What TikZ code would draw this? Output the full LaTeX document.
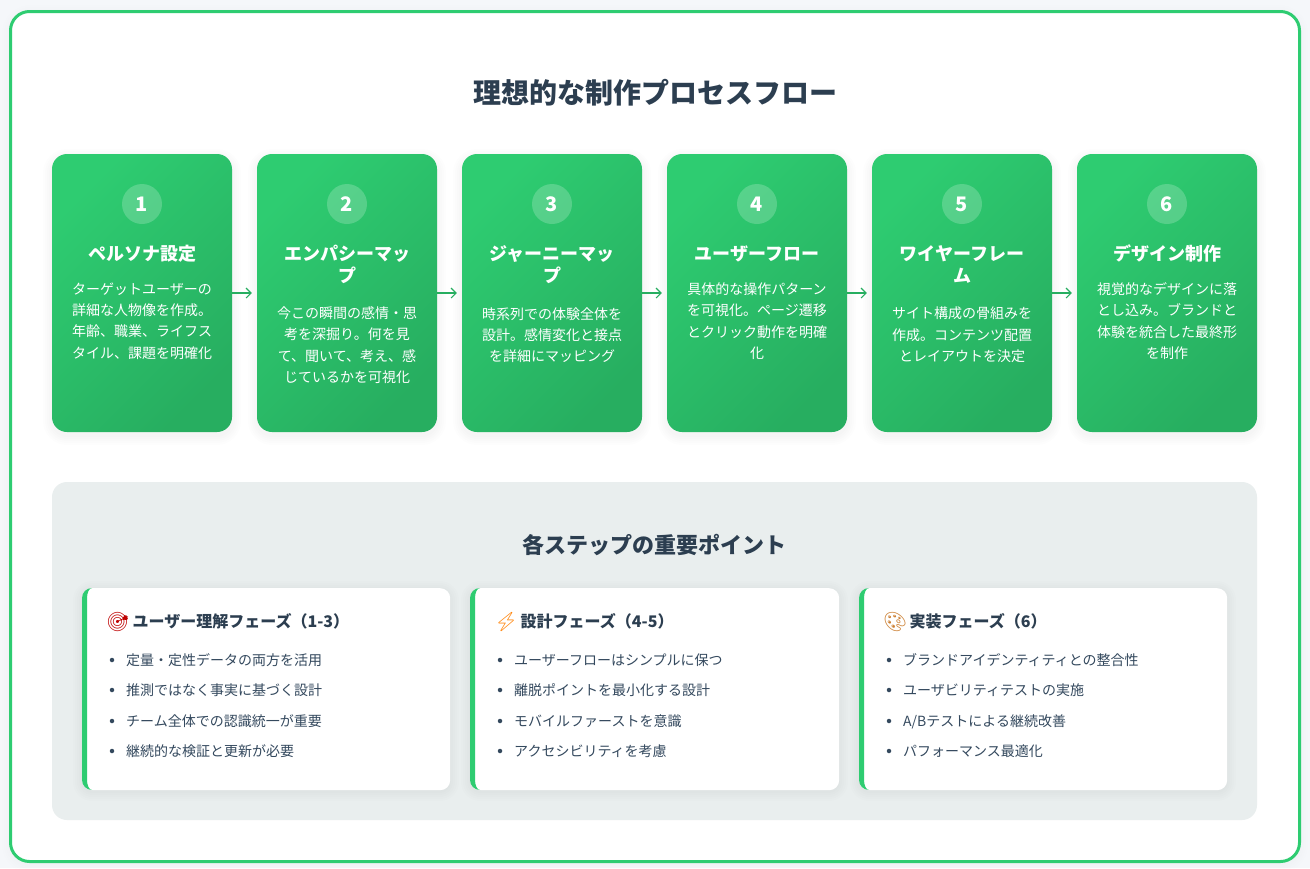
\documentclass[tikz,border=0pt]{standalone}
\usepackage{fontspec}
\setmainfont{Noto Sans CJK JP}
\newfontfamily\emojifont{Noto Emoji}
\usetikzlibrary{arrows.meta}
\usetikzlibrary{positioning}
\definecolor{pagebg}{HTML}{F5F7FA}
\definecolor{flowgreen}{HTML}{2ECC71}
\definecolor{flowdark}{HTML}{27AE60}
\definecolor{inkdark}{HTML}{2C3E50}
\definecolor{inklist}{HTML}{34495E}
\definecolor{panelbg}{HTML}{E9EEEE}
\tikzstyle{frame}=[rectangle,draw=flowgreen,line width=3pt,fill=white,rounded corners=19pt,inner sep=0pt]
\tikzstyle{stepcard}=[rectangle,rounded corners=15pt,minimum width=180pt,minimum height=278pt,inner sep=0pt,top color=flowgreen,bottom color=flowdark,shading angle=45]
\tikzstyle{stepnum}=[circle,fill=white,fill opacity=0.2,text opacity=1,text=white,minimum size=40pt,inner sep=0pt,font=\fontsize{20}{24}\selectfont\bfseries]
\tikzstyle{steptitle}=[text=white,align=center,inner sep=0pt,font=\fontsize{18}{22}\selectfont\bfseries]
\tikzstyle{stepbody}=[text=white,align=center,inner sep=0pt,font=\fontsize{14}{21.3}\selectfont]
\tikzstyle{flowarrow}=[draw=flowdark,line width=1.1pt,-{Straight Barb[length=5pt,width=10pt]},shorten >=5pt]
\tikzstyle{maintitle}=[text=inkdark,inner sep=0pt,font=\fontsize{28}{34}\selectfont\bfseries]
\tikzstyle{paneltitle}=[text=inkdark,inner sep=0pt,font=\fontsize{22}{26}\selectfont\bfseries]
\tikzstyle{phasecard}=[rectangle,fill=white,rounded corners=10pt,minimum height=202pt,inner sep=0pt,anchor=north west]
\tikzstyle{phasehead}=[text=inkdark,inner sep=0pt,anchor=west,text height=13pt,text depth=1.6pt,font=\fontsize{16}{20}\selectfont\bfseries]
\tikzstyle{phaseicon}=[inner sep=0pt,anchor=west,text height=15pt,text depth=2pt,font=\fontsize{19}{22}\emojifont]
\tikzstyle{phaseitem}=[text=inklist,inner sep=0pt,anchor=west,text height=12pt,text depth=1.4pt,font=\fontsize{14}{18}\selectfont]
\tikzstyle{itemdot}=[circle,fill=inklist,minimum size=4.5pt,inner sep=0pt]
\newcommand{\softshadow}[6]{% x1 y1 x2 y2 radius alpha
    \foreach \spread in {9,7,5,3,1}
        \fill[black,opacity=#6,rounded corners=#5pt+\spread pt] (#1-\spread,#2-\spread) rectangle (#3+\spread,#4+\spread);
}
\begin{document}
\begin{tikzpicture}[x=1pt,y=-1pt]

    \useasboundingbox (0,0) rectangle (1310,868);
    \fill[pagebg] (0,0) rectangle (1310,868);
    \softshadow{11}{14}{1299}{864}{19}{0.004}
    \node[frame,minimum width=1289pt,minimum height=850pt] (outer) at (655,436.5) {};

    \node[maintitle] (title) at (655,93) {理想的な制作プロセスフロー};

    \foreach \i/\xpos/\ttl/\ttly/\body/\bodyy in {
        1/142/{ペルソナ設定}/253.5/{ターゲットユーザーの\\詳細な人物像を作成。\\年齢、職業、ライフス\\タイル、課題を明確化}/321,
        2/347/{エンパシーマッ\\プ}/264.5/{今この瞬間の感情・思\\考を深掘り。何を見\\て、聞いて、考え、感\\じているかを可視化}/345,
        3/552/{ジャーニーマッ\\プ}/264.5/{時系列での体験全体を\\設計。感情変化と接点\\を詳細にマッピング}/335,
        4/757/{ユーザーフロー}/253.5/{具体的な操作パターン\\を可視化。ページ遷移\\とクリック動作を明確\\化}/321,
        5/962/{ワイヤーフレー\\ム}/264.5/{サイト構成の骨組みを\\作成。コンテンツ配置\\とレイアウトを決定}/335,
        6/1167/{デザイン制作}/253.5/{視覚的なデザインに落\\とし込み。ブランドと\\体験を統合した最終形\\を制作}/321}
    {
        \softshadow{\xpos-90}{158}{\xpos+90}{436}{15}{0.007}
        \node[stepcard] (card\i) at (\xpos,293) {};
        \node[stepnum] (num\i) at (\xpos,204) {\i};
        \node[steptitle] (ttl\i) at (\xpos,\ttly) {\ttl};
        \node[stepbody] (body\i) at (\xpos,\bodyy) {\body};
    }

    \foreach \source/\dest in {1/2, 2/3, 3/4, 4/5, 5/6}
        \draw[flowarrow] (card\source) -- (card\dest);

    \node[rectangle,fill=panelbg,rounded corners=15pt,minimum width=1205pt,minimum height=338pt,inner sep=0pt] (panel) at (654.5,651) {};
    \node[paneltitle] (ptitle) at (654.5,545) {各ステップの重要ポイント};

    \foreach \n/\xpos/\wid/\emo/\emocol/\head/\ia/\ib/\ic/\id in {
        1/82/368/{^^^^^^01f3af}/{red!75!black}/{ユーザー理解フェーズ（1-3）}/{定量・定性データの両方を活用}/{推測ではなく事実に基づく設計}/{チーム全体での認識統一が重要}/{継続的な検証と更新が必要},
        2/470/369/{^^^^26a1}/{orange}/{設計フェーズ（4-5）}/{ユーザーフローはシンプルに保つ}/{離脱ポイントを最小化する設計}/{モバイルファーストを意識}/{アクセシビリティを考慮},
        3/859/368/{^^^^^^01f3a8}/{brown!80!orange}/{実装フェーズ（6）}/{ブランドアイデンティティとの整合性}/{ユーザビリティテストの実施}/{A/Bテストによる継続改善}/{パフォーマンス最適化}}
    {
        \softshadow{\xpos}{590}{\xpos+\wid}{792}{10}{0.007}
        \node[phasecard,minimum width=\wid pt] (phase\n) at (\xpos,588) {};
        \fill[flowgreen] (\xpos+10,588) .. controls (\xpos+4.5,588) and (\xpos,592.5) .. (\xpos,598) -- (\xpos,780) .. controls (\xpos,785.5) and (\xpos+4.5,790) .. (\xpos+10,790) .. controls (\xpos+7.2,790) and (\xpos+5,785.5) .. (\xpos+5,780) -- (\xpos+5,598) .. controls (\xpos+5,592.5) and (\xpos+7.2,588) .. (\xpos+10,588) -- cycle;
        \node[phaseicon,text=\emocol] (icon\n) at (\xpos+24,622) {\emo};
        \node[phasehead] (head\n) at (\xpos+50.5,622) {\head};
        \foreach \k/\item/\ypos in {a/\ia/660, b/\ib/690, c/\ic/721, d/\id/751} {
            \node[itemdot] (dot\n\k) at (\xpos+30,\ypos) {};
            \node[phaseitem] (item\n\k) at (\xpos+44,\ypos) {\item};
        }
    }

\end{tikzpicture}
\end{document}
